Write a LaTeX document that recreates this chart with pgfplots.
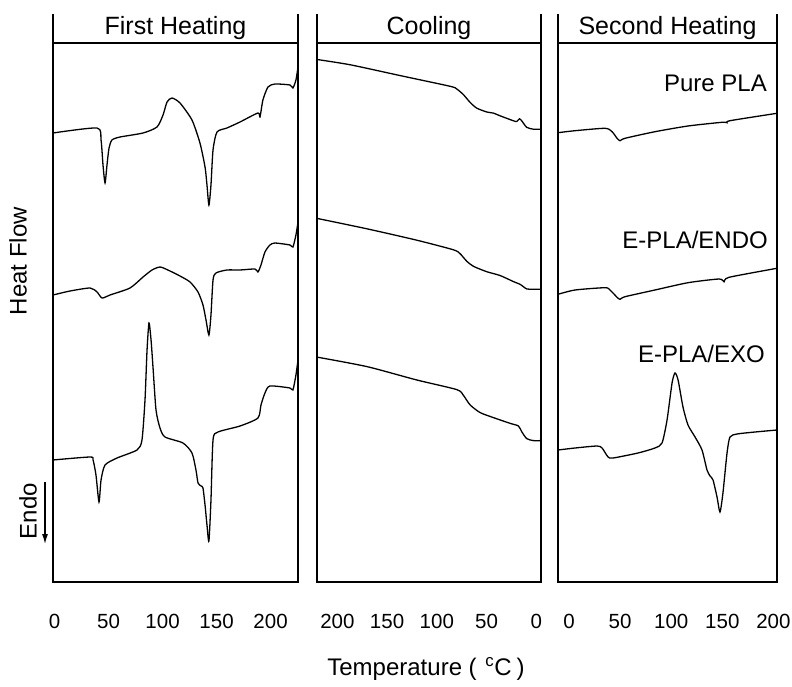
\documentclass[border=0pt]{standalone}
\usepackage{fontspec}
\setmainfont{Liberation Sans}
\usepackage{pgfplots}
\pgfplotsset{compat=1.18}
\usetikzlibrary{arrows.meta}
\begin{document}
\begin{tikzpicture}
\useasboundingbox (0pt,0pt) rectangle (792pt,686pt);
\pgfplotsset{
  dscpanel/.style={
    anchor=south west, scale only axis, height=539pt,
    ymin=18, ymax=557, ytick=\empty,
    xtick={0,50,100,150,200},
    major tick length=0pt,
    axis line style={line width=1.4pt},
    clip=false,
    xticklabel style={font=\fontsize{20.5}{24}\selectfont, yshift=-29pt},
    /pgf/number format/assume math mode=true,
    no markers,
    every axis plot post/.append style={black, line width=1.3pt, smooth, tension=0.4, mark=none},
  },
}
% ---------------- First heating ----------------
\begin{axis}[dscpanel, at={(53pt,104pt)}, width=245pt, xmin=-1.5, xmax=225.4]
\addplot coordinates {(-1.5,467) (39.3,472) (43.0,460) (44.8,435) (46.7,417) (48.5,435) (50.4,452) (53.1,460) (60.6,463) (81.9,467) (94.8,473) (100.4,485) (104.1,498) (108.7,502) (116.1,497) (127.2,480) (134.6,457) (139.3,433) (141.1,415) (142.9,395) (144.8,415) (146.7,450) (150.4,468) (159.6,472) (171.7,478) (188.3,487) (190.2,483) (192.9,500) (197.6,513) (204.1,516) (218.0,515) (220.7,512) (223.5,520) (225.4,533)};
\addplot coordinates {(-1.5,305) (14.3,309) (32.8,312) (39.3,308) (43.9,302) (51.3,305) (69.8,312) (81.9,323) (90.2,330) (97.6,333) (104.9,330) (116.1,324) (125.4,318) (132.8,308) (137.4,295) (140.2,280) (142.9,265) (144.8,285) (146.7,320) (149.4,327) (159.6,330) (171.7,330) (185.6,331) (188.3,328) (191.1,335) (194.8,348) (199.4,355) (204.1,357) (218.0,355) (220.7,353) (223.5,365) (225.4,378)};
\addplot coordinates {(-1.5,140) (32.8,143) (35.6,140) (38.3,125) (41.1,98) (43.0,120) (46.7,135) (57.8,142) (76.3,150) (80.9,160) (83.7,200) (85.6,250) (87.4,277) (89.3,260) (91.1,233) (93.9,190) (97.6,172) (102.2,163) (118.9,157) (127.2,147) (130.9,130) (132.8,117) (135.6,114) (137.4,112) (139.3,95) (141.1,75) (142.9,59) (144.8,100) (146.7,160) (151.3,168) (171.7,174) (188.3,182) (191.1,195) (194.8,207) (199.4,214) (218.0,212) (220.7,210) (223.5,225) (225.4,240)};
\draw[line width=1.4pt] (rel axis cs:0,1) -- ++(0pt,29pt);
\draw[line width=1.4pt] (rel axis cs:1,1) -- ++(0pt,29pt);
\node[font=\fontsize{25}{30}\selectfont, yshift=14.5pt] at (rel axis cs:0.5,1) {First Heating};
\end{axis}
% ---------------- Cooling ----------------
\begin{axis}[dscpanel, at={(317pt,104pt)}, width=224pt, x dir=reverse, xmin=-4.8, xmax=220.5]
\addplot coordinates {(220.5,540.5) (187.0,535.2) (136.8,524.4) (86.6,513.7) (79.9,511.0) (73.2,505.3) (66.5,497.6) (59.9,491.9) (49.8,488.0) (43.1,486.9) (36.4,484.2) (22.9,479.2) (19.6,478.5) (16.9,481.2) (14.6,479.2) (9.6,472.7) (2.9,470.8) (-4.8,470.8)};
\addplot coordinates {(220.5,381.6) (170.3,371.2) (120.1,359.8) (83.3,350.2) (76.6,346.3) (69.8,338.7) (63.2,333.7) (49.8,328.3) (36.4,324.5) (22.9,318.4) (16.3,315.7) (9.6,311.1) (2.9,310.7) (-4.8,310.7)};
\addplot coordinates {(220.5,242.9) (170.3,233.4) (120.1,220.0) (79.9,210.4) (73.2,204.6) (66.5,195.1) (56.4,187.4) (43.1,182.4) (26.4,176.7) (17.9,174.0) (14.6,168.3) (9.6,161.4) (2.9,159.4) (-4.8,159.4)};
\draw[line width=1.4pt] (rel axis cs:0,1) -- ++(0pt,29pt);
\draw[line width=1.4pt] (rel axis cs:1,1) -- ++(0pt,29pt);
\node[font=\fontsize{25}{30}\selectfont, yshift=14.5pt] at (rel axis cs:0.5,1) {Cooling};
\end{axis}
% ---------------- Second heating ----------------
\begin{axis}[dscpanel, at={(558pt,104pt)}, width=219pt, xmin=-10.8, xmax=203.5]
\addplot coordinates {(-10.8,467.3) (5.9,469.3) (35.2,471.7) (42.1,468.3) (47.0,461.7) (49.9,459.3) (54.8,461.7) (84.1,468.3) (116.4,474.0) (149.7,477.7) (154.6,477.3) (157.5,479.3) (203.5,486.7)};
\addplot coordinates {(-10.8,305.7) (5.9,310.0) (35.2,312.3) (40.1,310.0) (47.0,302.7) (49.9,300.7) (54.8,303.3) (84.1,310.0) (116.4,317.3) (146.8,321.0) (151.7,318.3) (156.6,322.7) (203.5,331.7)};
\addplot coordinates {(-10.8,150) (5.9,152) (27.4,154) (32.3,152) (38.2,143) (43.1,142) (67.5,147) (84.1,152) (91.0,157) (95.9,180) (100.8,217) (103.7,227) (106.7,220) (111.5,193) (116.4,175) (123.3,163) (130.1,150) (135.0,130) (138.0,124) (140.9,120) (144.8,103) (147.7,88) (150.6,107) (154.6,147) (157.5,163) (164.4,166) (182.0,168) (203.5,170)};
\draw[line width=1.4pt] (rel axis cs:0,1) -- ++(0pt,29pt);
\draw[line width=1.4pt] (rel axis cs:1,1) -- ++(0pt,29pt);
\node[font=\fontsize{25}{30}\selectfont, yshift=14.5pt] at (rel axis cs:0.5,1) {Second Heating};
\end{axis}
% ---------------- labels ----------------
\node[inner sep=0pt, anchor=east, font=\fontsize{24}{28}\selectfont] at (767pt,603pt) {Pure PLA};
\node[inner sep=0pt, anchor=east, font=\fontsize{24}{28}\selectfont] at (768pt,446pt) {E-PLA/ENDO};
\node[inner sep=0pt, anchor=east, font=\fontsize{24}{28}\selectfont] at (765pt,332pt) {E-PLA/EXO};
\node[rotate=90, inner sep=0pt, font=\fontsize{24}{28}\selectfont] at (18pt,425pt) {Heat Flow};
\node[rotate=90, inner sep=0pt, font=\fontsize{24}{28}\selectfont] at (28pt,175pt) {Endo};
\draw[line width=1.2pt, -{Latex[length=10pt,width=6pt]}] (45pt,204pt) -- (45pt,142pt);
\node[inner sep=0pt, font=\fontsize{24}{28}\selectfont] at (426pt,17pt) {Temperature (\hspace{2pt} \textsuperscript{c}C\hspace{5pt})};
\end{tikzpicture}
\end{document}
